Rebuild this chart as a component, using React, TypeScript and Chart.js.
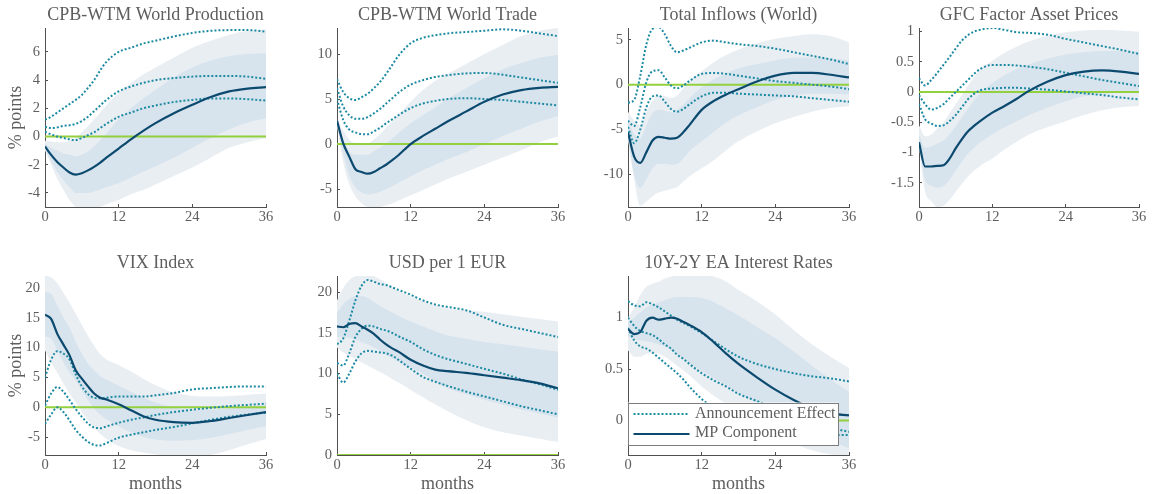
import React, { useEffect, useRef } from "react";
import { Chart, registerables } from "chart.js";

Chart.register(...registerables);

// ---------------- data ----------------
const months = [0, 1, 2, 3, 4, 5, 6, 7, 8, 9, 10, 12, 14, 16, 18, 21, 24, 27, 30, 33, 36];
const xTickValues = [0, 12, 24, 36];
const zeroLineX = [0, 36];

// CPB-WTM World Production
const prodMP = [-0.7, -1.3, -1.8, -2.2, -2.55, -2.7, -2.6, -2.4, -2.15, -1.85, -1.5, -0.85, -0.2, 0.4, 0.95, 1.65, 2.25, 2.8, 3.2, 3.4, 3.5];
const prodAnnHi = [1.2, 1.4, 1.7, 2.0, 2.3, 2.6, 2.95, 3.45, 4.0, 4.7, 5.3, 6.0, 6.3, 6.6, 6.8, 7.1, 7.35, 7.5, 7.55, 7.55, 7.45];
const prodAnnMid = [0.7, 0.6, 0.65, 0.75, 0.8, 0.9, 1.1, 1.4, 1.8, 2.2, 2.6, 3.2, 3.55, 3.8, 4.0, 4.15, 4.25, 4.3, 4.3, 4.25, 4.1];
const prodAnnLo = [0.35, 0.15, 0.0, -0.1, -0.2, -0.25, -0.1, 0.1, 0.3, 0.6, 0.9, 1.4, 1.7, 2.0, 2.2, 2.45, 2.6, 2.7, 2.7, 2.65, 2.55];
const prodOuterHi = [-0.3, -0.35, -0.4, -0.4, -0.3, -0.1, 0.3, 0.75, 1.2, 1.7, 2.2, 3.1, 3.8, 4.4, 4.9, 5.6, 6.3, 6.8, 7.2, 7.5, 7.6];
const prodOuterLo = [-1.0, -2.0, -3.0, -3.8, -4.5, -5.0, -5.2, -5.2, -5.1, -5.0, -4.8, -4.5, -4.1, -3.8, -3.4, -2.8, -2.2, -1.5, -0.8, -0.4, -0.1];
const prodInnerHi = [-0.5, -0.8, -1.0, -1.2, -1.3, -1.4, -1.3, -1.05, -0.7, -0.25, 0.2, 1.2, 2.0, 2.7, 3.3, 4.2, 4.9, 5.4, 5.7, 5.85, 5.9];
const prodInnerLo = [-0.9, -1.7, -2.5, -3.1, -3.6, -4.0, -4.0, -4.0, -3.9, -3.75, -3.6, -3.3, -2.9, -2.5, -2.1, -1.5, -0.8, -0.1, 0.5, 1.0, 1.3];
const prodYTicks = [-4, -2, 0, 2, 4, 6];

// CPB-WTM World Trade
const tradeMP = [2.6, 0.1, -1.4, -2.8, -3.1, -3.3, -3.1, -2.7, -2.3, -1.8, -1.25, 0.0, 0.9, 1.7, 2.5, 3.6, 4.7, 5.5, 6.0, 6.25, 6.35];
const tradeAnnHi = [7.2, 5.8, 5.1, 4.9, 5.2, 5.6, 6.2, 6.9, 7.8, 8.8, 9.8, 11.2, 11.8, 12.1, 12.3, 12.45, 12.6, 12.75, 12.6, 12.3, 12.0];
const tradeAnnMid = [6.2, 4.2, 3.2, 2.8, 2.8, 3.0, 3.4, 3.9, 4.5, 5.1, 5.7, 6.6, 7.1, 7.45, 7.65, 7.85, 7.9, 7.7, 7.4, 7.1, 6.8];
const tradeAnnLo = [5.0, 2.7, 1.6, 1.3, 1.1, 1.1, 1.4, 1.8, 2.3, 2.75, 3.2, 4.0, 4.5, 4.8, 5.0, 5.1, 5.0, 4.9, 4.7, 4.5, 4.3];
const tradeOuterHi = [2.7, 1.5, 0.5, 0.0, -0.1, 0.0, 0.5, 1.1, 1.8, 2.5, 3.3, 4.7, 6.0, 7.0, 7.8, 8.9, 10.0, 11.0, 12.0, 12.6, 12.9];
const tradeOuterLo = [2.0, -2.0, -4.5, -5.8, -6.6, -7.0, -7.1, -7.0, -6.8, -6.6, -6.3, -5.7, -5.1, -4.5, -3.9, -3.1, -2.3, -1.5, -0.7, 0.2, 0.8];
const tradeInnerHi = [2.5, 0.5, -0.8, -1.2, -1.2, -1.2, -0.8, -0.4, 0.0, 0.6, 1.2, 2.3, 3.2, 4.1, 5.0, 6.2, 7.3, 8.3, 9.0, 9.6, 9.9];
const tradeInnerLo = [2.2, -1.0, -3.5, -4.8, -5.4, -5.6, -5.5, -5.3, -5.0, -4.7, -4.3, -3.6, -2.9, -2.3, -1.7, -0.9, 0.0, 0.9, 1.7, 2.5, 3.1];
const tradeYTicks = [-5, 0, 5, 10];

// Total Inflows (World)
const inflMP = [-5.3, -8.0, -8.7, -7.5, -6.2, -5.8, -5.9, -6.0, -5.9, -5.3, -4.5, -2.8, -1.8, -1.1, -0.5, 0.35, 1.0, 1.3, 1.3, 1.1, 0.8];
const inflAnnHi = [-2.0, -1.7, 1.0, 4.5, 6.2, 6.4, 5.6, 4.3, 3.6, 3.8, 4.1, 4.7, 4.9, 4.7, 4.5, 4.3, 4.0, 3.6, 3.2, 2.8, 2.3];
const inflAnnMid = [-4.0, -4.6, -2.5, 0.3, 1.5, 1.6, 0.8, -0.1, -0.4, -0.1, 0.4, 1.2, 1.3, 1.2, 1.0, 0.7, 0.4, 0.2, 0.0, -0.2, -0.5];
const inflAnnLo = [-4.7, -6.5, -5.0, -2.5, -1.3, -1.2, -1.9, -2.7, -3.0, -2.7, -2.2, -1.3, -0.9, -0.9, -1.0, -1.1, -1.2, -1.3, -1.5, -1.7, -1.9];
const inflOuterHi = [-3.0, -4.0, -4.5, -3.0, -1.8, -1.2, -1.3, -1.5, -1.2, -0.4, 0.4, 1.5, 2.5, 3.3, 3.9, 4.6, 5.1, 5.4, 5.6, 5.4, 4.7];
const inflOuterLo = [-6.0, -10.5, -13.5, -13.0, -12.4, -12.0, -11.8, -11.6, -11.4, -10.8, -10.2, -9.3, -8.4, -7.3, -6.3, -5.2, -4.3, -3.6, -3.0, -2.6, -2.4];
const inflInnerHi = [-4.0, -5.5, -6.0, -4.5, -3.2, -2.8, -2.9, -3.1, -2.8, -2.2, -1.5, -0.3, 0.6, 1.3, 1.8, 2.3, 2.7, 3.0, 3.0, 2.9, 2.7];
const inflInnerLo = [-6.0, -10.0, -11.5, -10.5, -9.3, -8.8, -8.8, -8.9, -8.8, -8.2, -7.4, -6.3, -5.2, -4.2, -3.4, -2.5, -1.7, -1.2, -1.0, -1.0, -1.1];
const inflYTicks = [-10, -5, 0, 5];

// GFC Factor Asset Prices
const gfcMP = [-0.83, -1.23, -1.23, -1.22, -1.21, -1.1, -0.93, -0.78, -0.65, -0.56, -0.48, -0.34, -0.23, -0.11, 0.02, 0.17, 0.28, 0.34, 0.36, 0.34, 0.3];
const gfcAnnHi = [0.23, 0.11, 0.2, 0.32, 0.45, 0.58, 0.72, 0.85, 0.94, 1.0, 1.03, 1.06, 1.03, 0.99, 0.98, 0.95, 0.88, 0.82, 0.76, 0.7, 0.63];
const gfcAnnMid = [-0.05, -0.2, -0.29, -0.26, -0.2, -0.1, 0.0, 0.1, 0.2, 0.3, 0.38, 0.45, 0.45, 0.44, 0.42, 0.38, 0.32, 0.26, 0.2, 0.15, 0.1];
const gfcAnnLo = [-0.2, -0.45, -0.52, -0.56, -0.55, -0.48, -0.38, -0.25, -0.12, -0.03, 0.03, 0.06, 0.07, 0.07, 0.06, 0.04, 0.01, -0.02, -0.05, -0.09, -0.12];
const gfcOuterHi = [-0.55, -0.73, -0.7, -0.6, -0.5, -0.35, -0.2, -0.05, 0.1, 0.25, 0.37, 0.52, 0.65, 0.75, 0.84, 0.93, 0.99, 1.02, 1.03, 1.02, 1.0];
const gfcOuterLo = [-0.9, -1.65, -1.8, -1.9, -1.88, -1.78, -1.65, -1.52, -1.4, -1.3, -1.22, -1.1, -0.95, -0.82, -0.7, -0.58, -0.48, -0.38, -0.3, -0.25, -0.23];
const gfcInnerHi = [-0.7, -0.92, -0.9, -0.85, -0.8, -0.7, -0.57, -0.42, -0.28, -0.14, -0.02, 0.15, 0.28, 0.38, 0.46, 0.55, 0.62, 0.66, 0.68, 0.68, 0.67];
const gfcInnerLo = [-0.85, -1.45, -1.55, -1.58, -1.55, -1.45, -1.3, -1.15, -1.02, -0.92, -0.83, -0.7, -0.58, -0.48, -0.38, -0.26, -0.15, -0.07, -0.03, -0.01, 0.0];
const gfcYTicks = [-1.5, -1, -0.5, 0, 0.5, 1];

// VIX Index
const vixMP = [15.5, 14.8, 12.3, 10.5, 8.7, 6.2, 4.8, 3.5, 2.3, 1.6, 1.3, 0.5, -0.5, -1.5, -2.1, -2.5, -2.6, -2.3, -1.8, -1.3, -0.8];
const vixAnnHi = [5.0, 8.0, 9.4, 9.0, 8.0, 5.5, 3.5, 2.2, 1.6, 1.5, 1.6, 1.8, 1.8, 1.8, 2.0, 2.4, 3.0, 3.2, 3.4, 3.5, 3.5];
const vixAnnMid = [0.3, 2.3, 3.4, 2.6, 1.2, -0.3, -1.6, -2.7, -3.4, -3.5, -3.2, -2.6, -2.1, -1.7, -1.3, -0.8, -0.4, -0.1, 0.2, 0.4, 0.6];
const vixAnnLo = [-2.8, -1.2, 0.0, -0.8, -2.2, -3.8, -4.9, -5.8, -6.3, -6.4, -6.0, -5.1, -4.6, -4.2, -3.8, -3.3, -2.7, -2.1, -1.6, -1.2, -0.9];
const vixOuterHi = [22, 21.8, 20.8, 19.2, 17.5, 15.7, 13.8, 12.0, 10.3, 8.9, 8.0, 7.1, 6.0, 4.8, 3.7, 2.5, 1.9, 1.8, 1.9, 2.1, 2.3];
const vixOuterLo = [9.5, 7.5, 5.8, 4.0, 2.3, 0.8, -0.8, -2.2, -3.4, -4.5, -5.3, -6.5, -7.2, -7.6, -7.9, -8.2, -8.3, -8.0, -7.2, -6.2, -5.3];
const vixInnerHi = [19.3, 19.0, 17.0, 15.0, 13.3, 11.0, 9.0, 7.3, 6.2, 5.2, 4.6, 3.6, 2.6, 1.6, 0.8, 0.0, -0.4, -0.4, -0.2, 0.1, 0.5];
const vixInnerLo = [11.8, 11.5, 9.5, 7.5, 5.8, 4.5, 2.8, 1.2, -0.2, -1.2, -2.0, -3.2, -4.2, -5.0, -5.4, -5.6, -5.5, -5.1, -4.5, -3.8, -3.2];
const vixYTicks = [-5, 0, 5, 10, 15, 20];

// USD per 1 EUR
const usdMP = [15.8, 15.7, 16.1, 16.2, 15.8, 15.4, 14.9, 14.2, 13.6, 13.1, 12.7, 11.7, 11.0, 10.5, 10.3, 10.1, 9.8, 9.5, 9.2, 8.8, 8.2];
const usdAnnHi = [13.6, 14.3, 16.5, 19.0, 20.8, 21.5, 21.3, 21.0, 20.9, 20.6, 20.3, 19.7, 19.0, 18.5, 18.2, 17.8, 16.9, 16.0, 15.5, 15.0, 14.5];
const usdAnnMid = [11.3, 11.0, 12.5, 14.5, 15.5, 15.9, 15.8, 15.5, 15.3, 15.0, 14.6, 13.9, 13.0, 12.3, 11.8, 11.2, 10.6, 10.0, 9.3, 8.7, 8.0];
const usdAnnLo = [10.0, 8.9, 10.0, 11.5, 12.5, 12.8, 12.7, 12.6, 12.5, 12.2, 11.7, 10.6, 9.6, 9.0, 8.5, 7.8, 7.2, 6.6, 6.0, 5.5, 5.0];
const usdOuterHi = [19.0, 20.5, 21.5, 22.0, 22.2, 22.2, 22.0, 21.6, 21.1, 20.6, 20.2, 19.5, 18.9, 18.4, 18.0, 17.8, 17.6, 17.3, 17.0, 16.7, 16.4];
const usdOuterLo = [13.2, 12.6, 12.2, 11.8, 11.4, 11.0, 10.6, 10.2, 9.8, 9.3, 8.9, 8.0, 7.1, 6.2, 5.4, 4.3, 3.4, 2.8, 2.4, 2.0, 1.6];
const usdInnerHi = [17.5, 18.5, 19.2, 19.5, 19.5, 19.3, 18.8, 18.3, 17.9, 17.5, 17.1, 16.4, 15.8, 15.2, 14.7, 14.3, 13.9, 13.6, 13.3, 13.0, 12.7];
const usdInnerLo = [14.5, 14.5, 14.4, 14.2, 13.9, 13.6, 13.2, 12.8, 12.3, 11.9, 11.5, 10.8, 10.0, 9.1, 8.2, 7.5, 6.8, 6.2, 5.6, 5.1, 4.6];
const usdYTicks = [0, 5, 10, 15, 20];

// 10Y-2Y EA Interest Rates
const rateMP = [0.89, 0.84, 0.86, 0.97, 1.0, 0.98, 0.99, 1.0, 0.99, 0.96, 0.93, 0.86, 0.76, 0.65, 0.55, 0.42, 0.3, 0.2, 0.12, 0.07, 0.05];
const rateAnnHi = [1.16, 1.12, 1.11, 1.15, 1.13, 1.1, 1.06, 1.02, 0.98, 0.95, 0.92, 0.85, 0.77, 0.69, 0.62, 0.55, 0.5, 0.46, 0.43, 0.41, 0.38];
const rateAnnMid = [1.0, 0.92, 0.87, 0.85, 0.83, 0.79, 0.74, 0.7, 0.64, 0.6, 0.55, 0.46, 0.39, 0.33, 0.26, 0.19, 0.12, 0.05, -0.02, -0.07, -0.11];
const rateAnnLo = [0.9, 0.78, 0.72, 0.7, 0.66, 0.61, 0.56, 0.51, 0.46, 0.4, 0.33, 0.21, 0.12, 0.05, -0.01, -0.07, -0.1, -0.12, -0.13, -0.14, -0.14];
const rateOuterHi = [1.0, 1.1, 1.22, 1.3, 1.33, 1.35, 1.38, 1.4, 1.41, 1.41, 1.41, 1.41, 1.4, 1.35, 1.27, 1.16, 1.03, 0.88, 0.74, 0.62, 0.51];
const rateOuterLo = [0.68, 0.62, 0.62, 0.65, 0.66, 0.65, 0.62, 0.58, 0.53, 0.49, 0.44, 0.33, 0.24, 0.16, 0.08, -0.03, -0.13, -0.22, -0.29, -0.33, -0.35];
const rateInnerHi = [0.95, 1.0, 1.05, 1.1, 1.13, 1.15, 1.17, 1.19, 1.2, 1.2, 1.2, 1.19, 1.15, 1.09, 1.02, 0.91, 0.8, 0.67, 0.53, 0.4, 0.28];
const rateInnerLo = [0.82, 0.79, 0.78, 0.77, 0.76, 0.74, 0.72, 0.68, 0.64, 0.6, 0.56, 0.48, 0.41, 0.34, 0.27, 0.17, 0.07, -0.03, -0.12, -0.2, -0.27];
const rateYTicks = [0, 0.5, 1];

const legendLabels = ["Announcement Effect", "MP Component"];

// ---------------- styling ----------------
const FONT = "'Liberation Serif', 'Times New Roman', serif";
const TEXT = "#5e5e5e";
const AXIS = "#505050";
const OUTER = "#e9eef3";
const INNER = "#d7e3ed";
const SOLID = "#0b4a6e";
const DOTTED = "#1d8aa3";
const ZERO = "#93d03e";

type Series = {
  mp: number[]; hi: number[]; mid: number[]; lo: number[];
  oHi: number[]; oLo: number[]; iHi: number[]; iLo: number[];
};

type PanelSpec = {
  id: string;
  title: string;
  series: Series;
  yMin: number;
  yMax: number;
  yTicks: number[];
  col: number;
  row: number;
  yTitle?: boolean;
  xTitle?: boolean;
  legend?: boolean;
};

const PLOT_LEFT = [45, 337, 628, 919];
const PLOT_W = [221, 221, 221, 220];
const ROWS = [
  { canvasTop: 0, canvasH: 240, plotTop: 28, plotBottom: 207, titleY: 15.3, xAxisH: 30 },
  { canvasTop: 240, canvasH: 254, plotTop: 276, plotBottom: 455, titleY: 263.3, xAxisH: 39 },
];

const PANELS: PanelSpec[] = [
  { id: "p1", title: "CPB-WTM World Production", col: 0, row: 0, yMin: -5, yMax: 7.7, yTicks: prodYTicks, yTitle: true,
    series: { mp: prodMP, hi: prodAnnHi, mid: prodAnnMid, lo: prodAnnLo, oHi: prodOuterHi, oLo: prodOuterLo, iHi: prodInnerHi, iLo: prodInnerLo } },
  { id: "p2", title: "CPB-WTM World Trade", col: 1, row: 0, yMin: -7, yMax: 12.9, yTicks: tradeYTicks,
    series: { mp: tradeMP, hi: tradeAnnHi, mid: tradeAnnMid, lo: tradeAnnLo, oHi: tradeOuterHi, oLo: tradeOuterLo, iHi: tradeInnerHi, iLo: tradeInnerLo } },
  { id: "p3", title: "Total Inflows (World)", col: 2, row: 0, yMin: -13.6, yMax: 6.3, yTicks: inflYTicks,
    series: { mp: inflMP, hi: inflAnnHi, mid: inflAnnMid, lo: inflAnnLo, oHi: inflOuterHi, oLo: inflOuterLo, iHi: inflInnerHi, iLo: inflInnerLo } },
  { id: "p4", title: "GFC Factor Asset Prices", col: 3, row: 0, yMin: -1.9, yMax: 1.06, yTicks: gfcYTicks,
    series: { mp: gfcMP, hi: gfcAnnHi, mid: gfcAnnMid, lo: gfcAnnLo, oHi: gfcOuterHi, oLo: gfcOuterLo, iHi: gfcInnerHi, iLo: gfcInnerLo } },
  { id: "p5", title: "VIX Index", col: 0, row: 1, yMin: -8, yMax: 22, yTicks: vixYTicks, yTitle: true, xTitle: true,
    series: { mp: vixMP, hi: vixAnnHi, mid: vixAnnMid, lo: vixAnnLo, oHi: vixOuterHi, oLo: vixOuterLo, iHi: vixInnerHi, iLo: vixInnerLo } },
  { id: "p6", title: "USD per 1 EUR", col: 1, row: 1, yMin: 0, yMax: 22, yTicks: usdYTicks, xTitle: true,
    series: { mp: usdMP, hi: usdAnnHi, mid: usdAnnMid, lo: usdAnnLo, oHi: usdOuterHi, oLo: usdOuterLo, iHi: usdInnerHi, iLo: usdInnerLo } },
  { id: "p7", title: "10Y-2Y EA Interest Rates", col: 2, row: 1, yMin: -0.335, yMax: 1.405, yTicks: rateYTicks, xTitle: true, legend: true,
    series: { mp: rateMP, hi: rateAnnHi, mid: rateAnnMid, lo: rateAnnLo, oHi: rateOuterHi, oLo: rateOuterLo, iHi: rateInnerHi, iLo: rateInnerLo } },
];

const pts = (ys: number[]) => months.map((m, i) => ({ x: m, y: ys[i] }));

const boxLegendPlugin = {
  id: "boxLegend",
  afterDatasetsDraw(chart: any, _args: any, opts: any) {
    if (!opts || !opts.show) return;
    const { ctx, chartArea } = chart;
    const x = chartArea.left - 0.5;
    const y = chartArea.top + 126.5;
    const w = 211;
    const h = 42.5;
    ctx.save();
    ctx.fillStyle = "#ffffff";
    ctx.fillRect(x, y, w, h);
    ctx.strokeStyle = "#7d7d7d";
    ctx.lineWidth = 1;
    ctx.strokeRect(Math.round(x) + 0.5, Math.round(y) + 0.5, Math.round(w) - 1, Math.round(h) - 1);
    const rows = [
      { label: legendLabels[0], color: DOTTED, dash: [2, 2], width: 2, lineY: y + 11.5, textY: y + 10.8 },
      { label: legendLabels[1], color: SOLID, dash: [], width: 2.2, lineY: y + 31.5, textY: y + 30.2 },
    ];
    rows.forEach((r) => {
      ctx.beginPath();
      ctx.setLineDash(r.dash);
      ctx.strokeStyle = r.color;
      ctx.lineWidth = r.width;
      ctx.moveTo(x + 6, r.lineY);
      ctx.lineTo(x + 62, r.lineY);
      ctx.stroke();
      ctx.setLineDash([]);
      ctx.fillStyle = TEXT;
      ctx.font = `16px ${FONT}`;
      ctx.textBaseline = "middle";
      ctx.textAlign = "left";
      ctx.fillText(r.label, x + 67.5, r.textY);
    });
    ctx.restore();
  },
};

function buildConfig(p: PanelSpec, canvasLeft: number, canvasW: number): any {
  const row = ROWS[p.row];
  const plotLeftRel = PLOT_LEFT[p.col] - canvasLeft;
  const plotRightRel = plotLeftRel + PLOT_W[p.col];
  const yAxisW = 40;
  const titleSize = 18;
  const plotTopRel = row.plotTop - row.canvasTop;
  const plotBottomRel = row.plotBottom - row.canvasTop;
  const titleCenterRel = row.titleY - row.canvasTop;
  const titlePadTop = titleCenterRel - titleSize / 2;
  const titlePadBottom = plotTopRel - titlePadTop - titleSize;
  const layoutBottom = row.canvasH - plotBottomRel - row.xAxisH;
  const s = p.series;

  const band = (data: number[], color: string, fill: any, order: number) => ({
    data: pts(data),
    borderWidth: 0,
    borderColor: "rgba(0,0,0,0)",
    backgroundColor: color,
    pointRadius: 0,
    fill,
    order,
    cubicInterpolationMode: "monotone",
  });
  const dotted = (data: number[]) => ({
    data: pts(data),
    borderColor: DOTTED,
    borderWidth: 2,
    borderDash: [2, 2],
    borderCapStyle: "butt",
    pointRadius: 0,
    fill: false,
    order: 2,
    cubicInterpolationMode: "monotone",
  });

  const tickFont = { family: FONT, size: 14.5 };
  const axisTitleSize = 18;

  return {
    type: "line",
    data: {
      datasets: [
        band(s.oHi, OUTER, "+1", 5),
        band(s.oLo, OUTER, false, 5),
        band(s.iHi, INNER, "+1", 4),
        band(s.iLo, INNER, false, 4),
        {
          data: zeroLineX.map((x) => ({ x, y: 0 })),
          borderColor: ZERO,
          borderWidth: 2,
          pointRadius: 0,
          fill: false,
          order: 3,
        },
        dotted(s.hi),
        dotted(s.mid),
        dotted(s.lo),
        {
          data: pts(s.mp),
          borderColor: SOLID,
          borderWidth: 2.2,
          pointRadius: 0,
          fill: false,
          order: 1,
          cubicInterpolationMode: "monotone",
        },
      ],
    },
    options: {
      responsive: false,
      animation: false,
      devicePixelRatio: 1,
      events: [],
      layout: {
        padding: {
          left: plotLeftRel - yAxisW,
          right: canvasW - plotRightRel,
          top: 0,
          bottom: layoutBottom,
        },
      },
      plugins: {
        legend: { display: false },
        tooltip: { enabled: false },
        title: {
          display: true,
          text: p.title,
          fullSize: false,
          color: TEXT,
          font: { family: FONT, size: titleSize, weight: "normal", lineHeight: 1 },
          padding: { top: titlePadTop, bottom: titlePadBottom },
        },
        boxLegend: { show: !!p.legend },
      },
      scales: {
        x: {
          type: "linear",
          min: 0,
          max: 36,
          afterBuildTicks: (scale: any) => {
            scale.ticks = xTickValues.map((v) => ({ value: v }));
          },
          afterFit: (scale: any) => {
            scale.height = row.xAxisH;
          },
          border: { display: true, color: AXIS, width: 1 },
          grid: { drawOnChartArea: false, drawTicks: true, tickLength: -3, color: AXIS },
          ticks: {
            color: TEXT,
            font: tickFont,
            padding: 4,
            maxRotation: 0,
            autoSkip: false,
            callback: (v: any) => String(v),
          },
          title: {
            display: !!p.xTitle,
            text: "months",
            color: TEXT,
            font: { family: FONT, size: axisTitleSize, lineHeight: 1 },
            padding: { top: 0, bottom: 0.5 },
          },
        },
        y: {
          type: "linear",
          min: p.yMin,
          max: p.yMax,
          afterBuildTicks: (scale: any) => {
            scale.ticks = p.yTicks.map((v) => ({ value: v }));
          },
          afterFit: (scale: any) => {
            scale.width = yAxisW;
          },
          border: { display: true, color: AXIS, width: 1 },
          grid: { drawOnChartArea: false, drawTicks: true, tickLength: -3, color: AXIS },
          ticks: {
            color: TEXT,
            font: tickFont,
            padding: 8,
            autoSkip: false,
            callback: (v: any) => String(v),
          },
          title: {
            display: !!p.yTitle,
            text: "% points",
            color: TEXT,
            font: { family: FONT, size: axisTitleSize, lineHeight: 1 },
            padding: { top: 2.2, bottom: 0 },
          },
        },
      },
    },
    plugins: [boxLegendPlugin],
  };
}

function Panel({ spec }: { spec: PanelSpec }) {
  const ref = useRef<HTMLCanvasElement | null>(null);
  const row = ROWS[spec.row];
  const canvasLeft = PLOT_LEFT[spec.col] - 45;
  const canvasW = spec.col === 3 ? 1154 - canvasLeft : 290;
  useEffect(() => {
    if (!ref.current) return;
    const chart = new Chart(ref.current, buildConfig(spec, canvasLeft, canvasW));
    return () => chart.destroy();
  }, [spec, canvasLeft, canvasW]);
  return (
    <canvas
      ref={ref}
      width={canvasW}
      height={row.canvasH}
      style={{ position: "absolute", left: canvasLeft, top: row.canvasTop, width: canvasW, height: row.canvasH }}
    />
  );
}

export default function App() {
  return (
    <div style={{ position: "relative", width: 1154, height: 494, background: "#ffffff", overflow: "hidden" }}>
      <style>{"body{margin:0;background:#ffffff;}"}</style>
      {PANELS.map((p) => (
        <Panel key={p.id} spec={p} />
      ))}
    </div>
  );
}
